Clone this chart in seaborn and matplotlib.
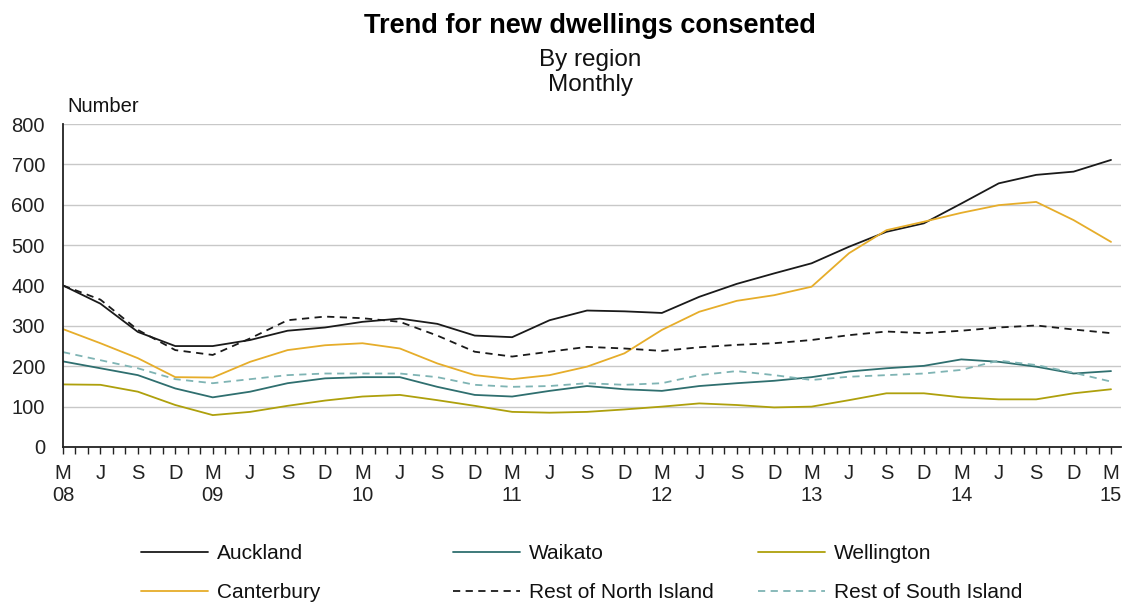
import numpy as np
import pandas as pd
import matplotlib
matplotlib.use("Agg")
import matplotlib.pyplot as plt
import seaborn as sns

# Quarterly readings, March 2008 .. March 2015 (29 points)
quarters = ["M", "J", "S", "D"]
years = ["08", "09", "10", "11", "12", "13", "14", "15"]

auckland = [400, 355, 285, 250, 250, 265, 288, 296, 310, 318, 305, 276, 272, 314, 338,
            336, 332, 372, 404, 430, 455, 496, 533, 554, 603, 653, 674, 682, 711]
waikato = [212, 195, 178, 145, 123, 137, 158, 170, 173, 173, 149, 129, 125, 139, 151,
           143, 139, 151, 158, 164, 173, 187, 195, 201, 217, 211, 199, 182, 188]
wellington = [155, 154, 137, 104, 79, 87, 102, 115, 125, 129, 116, 102, 87, 85, 87,
              93, 100, 108, 104, 98, 100, 116, 133, 133, 123, 118, 118, 133, 143]
canterbury = [292, 257, 220, 173, 172, 211, 240, 252, 257, 244, 207, 178, 168, 178, 199,
              232, 290, 335, 362, 376, 397, 480, 537, 558, 580, 599, 607, 562, 508]
rest_ni = [400, 365, 290, 240, 228, 269, 314, 323, 319, 310, 276, 236, 224, 236, 248,
           244, 238, 247, 253, 257, 265, 277, 286, 282, 288, 296, 301, 291, 282]
rest_si = [235, 215, 195, 168, 158, 168, 178, 182, 182, 182, 173, 154, 149, 151, 158,
           154, 158, 178, 188, 178, 166, 174, 178, 182, 191, 214, 203, 184, 162]

series = {
    "Auckland": auckland,
    "Waikato": waikato,
    "Wellington": wellington,
    "Canterbury": canterbury,
    "Rest of North Island": rest_ni,
    "Rest of South Island": rest_si,
}
colors = {
    "Auckland": "#1a1a1a",
    "Waikato": "#2f6f6f",
    "Wellington": "#aea00c",
    "Canterbury": "#e6ad2a",
    "Rest of North Island": "#1a1a1a",
    "Rest of South Island": "#7fb4b4",
}
styles = {
    "Auckland": "-",
    "Waikato": "-",
    "Wellington": "-",
    "Canterbury": "-",
    "Rest of North Island": (0, (4, 3)),
    "Rest of South Island": (0, (4, 3)),
}

month_idx = np.arange(0, 85, 3)
rows = []
for name, vals in series.items():
    for m, v in zip(month_idx, vals):
        rows.append({"month": m, "value": v, "region": name})
df = pd.DataFrame(rows)

sns.set_theme(style="white")
plt.rcParams["font.family"] = ["Liberation Sans", "DejaVu Sans"]

W, H = 1125, 602
fig = plt.figure(figsize=(W / 100, H / 100), dpi=100)
ax = fig.add_axes([63 / W, 1 - 447 / H, (1121 - 63) / W, (447 - 124) / H])

handles = {}
for name in series:
    sub = df[df["region"] == name]
    sns.lineplot(data=sub, x="month", y="value", color=colors[name], ax=ax,
                 linewidth=1.3, legend=False)
    ln = ax.lines[-1]
    ln.set_linestyle(styles[name])
    handles[name] = ln

ax.set_xlim(0, 84.8)
ax.set_ylim(0, 800)
ax.set_yticks(np.arange(0, 801, 100))
ax.yaxis.grid(True, color="#c8c8c8", linewidth=1.0)
ax.xaxis.grid(False)
ax.set_axisbelow(True)

labels = []
for i in range(29):
    q = quarters[i % 4]
    if i % 4 == 0:
        labels.append(q + "\n" + years[i // 4])
    else:
        labels.append(q)
ax.set_xticks(month_idx)
ax.set_xticklabels(labels, fontsize=14.5, color="#222222", linespacing=1.2)
ax.set_xticks(np.arange(0, 85, 1), minor=True)
ax.tick_params(axis="x", which="both", direction="out", length=5, width=1,
               color="#222222", bottom=True, pad=7)
ax.tick_params(axis="y", length=0, pad=13, labelsize=14.5, labelcolor="#222222")
ax.set_xlabel("")
ax.set_ylabel("")

for s in ["top", "right"]:
    ax.spines[s].set_visible(False)
for s in ["left", "bottom"]:
    ax.spines[s].set_color("#222222")
    ax.spines[s].set_linewidth(1.3)

cx = 590 / W
fig.text(cx, 1 - 33 / H, "Trend for new dwellings consented", ha="center", va="baseline",
         fontsize=19.5, fontweight="bold", color="#000000")
fig.text(cx, 1 - 66 / H, "By region", ha="center", va="baseline", fontsize=17.5, color="#111111")
fig.text(cx, 1 - 91 / H, "Monthly", ha="center", va="baseline", fontsize=17.5, color="#111111")
fig.text(67 / W, 1 - 112 / H, "Number", ha="left", va="baseline", fontsize=14.5, color="#111111")

columns = [
    (141, ["Auckland", "Canterbury"]),
    (453, ["Waikato", "Rest of North Island"]),
    (758, ["Wellington", "Rest of South Island"]),
]
for xpix, names in columns:
    lg = fig.legend([handles[n] for n in names], names, ncol=1, loc="upper left",
                    bbox_to_anchor=(xpix / W, 1 - 544 / H), frameon=False, fontsize=15,
                    handlelength=3.2, handletextpad=0.45, labelspacing=0.96,
                    borderpad=0, borderaxespad=0)
    for t in lg.get_texts():
        t.set_color("#111111")

fig.savefig("out.png", dpi=100)
